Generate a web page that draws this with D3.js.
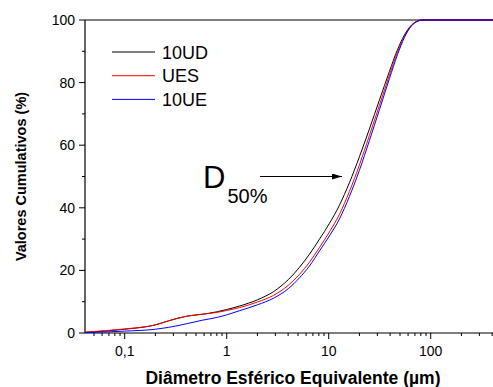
<!DOCTYPE html>
<html>
<head>
<meta charset="utf-8">
<script src="https://cdn.jsdelivr.net/npm/d3@7"></script>
<style>
  body { margin: 0; background: #fff; }
  svg text { font-family: "Liberation Sans", Arial, sans-serif; }
</style>
</head>
<body>
<div id="chart"></div>
<script>
// values
var seriesNames = ["10UD", "UES", "10UE"];
var seriesColors = ["#000000", "#ff0000", "#0000ff"];

// diameter (um), shared by the three curves
var diameters = [0.041, 0.1, 0.2, 0.27, 0.41, 0.58, 0.81, 1.0, 1.33, 2.0, 2.87, 4.03, 5.16, 6.47,
  8.11, 10.16, 12.73, 15.95, 20.0, 25.06, 31.4, 39.4, 47.2, 55.2, 64.7, 74.1, 83.0, 408];
// cumulative %
var values10UD = [0.2, 1.2, 2.6, 3.9, 5.4, 6.0, 6.8, 7.5, 8.6, 10.6, 13.2, 17.1, 20.95, 25.15,
  29.95, 35.0, 40.8, 48.0, 56.3, 65.2, 74.4, 83.6, 90.5, 95.2, 98.35, 99.65, 100, 100];
var valuesUES = [0.3, 1.3, 2.6, 3.9, 5.4, 6.0, 6.6, 7.2, 8.1, 9.9, 12.0, 15.3, 18.7, 22.6,
  27.3, 32.3, 37.9, 45.2, 53.7, 63.1, 72.7, 82.4, 89.7, 94.8, 98.2, 99.65, 100, 100];
var values10UE = [0.1, 0.6, 1.2, 1.8, 3.0, 4.1, 5.0, 5.8, 7.1, 9.0, 11.1, 14.2, 17.6, 21.4,
  26.2, 31.0, 36.4, 43.6, 52.0, 61.5, 71.3, 81.3, 88.9, 94.4, 98.1, 99.6, 100, 100];
var allValues = [values10UD, valuesUES, values10UE];

var xMajor = [0.1, 1, 10, 100];
var xMajorLabels = ["0,1", "1", "10", "100"];
var yMajor = [0, 20, 40, 60, 80, 100];
var yMinor = [10, 30, 50, 70, 90];

var width = 493, height = 387;
var margin = {top: 20, right: 0, bottom: 54, left: 85};

var svg = d3.select("#chart").append("svg")
  .attr("width", width)
  .attr("height", height);

var x = d3.scaleLog()
  .domain([0.0408, 408])
  .range([margin.left, width - margin.right]);
var y = d3.scaleLinear()
  .domain([0, 100])
  .range([height - margin.bottom, margin.top]);

// minor x ticks (log 2..9 multiples)
var xMinor = x.ticks().filter(function(d) { return xMajor.indexOf(d) < 0; });

var xAxis = svg.append("g")
  .attr("transform", "translate(0," + y(0) + ")");
xAxis.append("line")
  .attr("x1", x.range()[0]).attr("x2", x.range()[1])
  .attr("stroke", "#000").attr("stroke-width", 1.2);
xAxis.selectAll(".minor").data(xMinor).enter().append("line")
  .attr("x1", function(d) { return x(d); }).attr("x2", function(d) { return x(d); })
  .attr("y1", 0).attr("y2", 3)
  .attr("stroke", "#000");
xAxis.selectAll(".major").data(xMajor).enter().append("line")
  .attr("x1", function(d) { return x(d); }).attr("x2", function(d) { return x(d); })
  .attr("y1", 0).attr("y2", 6)
  .attr("stroke", "#000");
xAxis.selectAll("text").data(xMajor).enter().append("text")
  .attr("x", function(d) { return x(d); })
  .attr("y", 23)
  .attr("text-anchor", "middle")
  .style("font-size", "14px")
  .text(function(d, i) { return xMajorLabels[i]; });

var yAxis = svg.append("g")
  .attr("transform", "translate(" + x.range()[0] + ",0)");
yAxis.append("line")
  .attr("y1", y(0)).attr("y2", y(100))
  .attr("stroke", "#000").attr("stroke-width", 1.2);
yAxis.selectAll(".minor").data(yMinor).enter().append("line")
  .attr("y1", function(d) { return y(d); }).attr("y2", function(d) { return y(d); })
  .attr("x1", 0).attr("x2", -3)
  .attr("stroke", "#000");
yAxis.selectAll(".major").data(yMajor).enter().append("line")
  .attr("y1", function(d) { return y(d); }).attr("y2", function(d) { return y(d); })
  .attr("x1", 0).attr("x2", -6)
  .attr("stroke", "#000");
yAxis.selectAll("text").data(yMajor).enter().append("text")
  .attr("x", -10)
  .attr("y", function(d) { return y(d); })
  .attr("dy", "0.36em")
  .attr("text-anchor", "end")
  .style("font-size", "14px")
  .text(function(d) { return d; });

// top frame line
svg.append("line")
  .attr("x1", x.range()[0]).attr("x2", x.range()[1])
  .attr("y1", y(100)).attr("y2", y(100))
  .attr("stroke", "#000").attr("stroke-width", 1.2);

// curves
var line = d3.line()
  .x(function(d, i) { return x(diameters[i]); })
  .y(function(d) { return y(d); })
  .curve(d3.curveMonotoneX);

svg.selectAll(".curve").data(allValues).enter().append("path")
  .attr("class", "curve")
  .attr("d", line)
  .attr("fill", "none")
  .attr("stroke", function(d, i) { return seriesColors[i]; })
  .attr("stroke-width", 1);

// legend
var legend = svg.selectAll(".legend").data(seriesNames).enter().append("g")
  .attr("transform", function(d, i) { return "translate(112," + (52 + i * 23.7) + ")"; });
legend.append("line")
  .attr("x1", 0).attr("x2", 43)
  .attr("stroke", function(d, i) { return seriesColors[i]; })
  .attr("stroke-width", 1);
legend.append("text")
  .attr("x", 50)
  .attr("y", 6.5)
  .style("font-size", "18px")
  .text(function(d) { return d; });

// D50 annotation
var note = svg.append("text")
  .attr("x", 203)
  .attr("y", 187.5);
note.append("tspan").style("font-size", "31px").text("D");
note.append("tspan").attr("dx", 2).attr("dy", 15).style("font-size", "20px").text("50%");

svg.append("defs").append("marker")
  .attr("id", "arrow")
  .attr("viewBox", "0 0 10 6")
  .attr("refX", 10).attr("refY", 3)
  .attr("markerWidth", 10).attr("markerHeight", 6)
  .attr("markerUnits", "userSpaceOnUse")
  .attr("orient", "auto")
  .append("path")
  .attr("d", "M0,0L10,3L0,6Z")
  .attr("fill", "#000");

svg.append("line")
  .attr("x1", 260).attr("x2", 342)
  .attr("y1", y(50)).attr("y2", y(50))
  .attr("stroke", "#000")
  .attr("stroke-width", 1)
  .attr("marker-end", "url(#arrow)");

// axis titles
svg.append("text")
  .attr("x", 293)
  .attr("y", 384)
  .attr("text-anchor", "middle")
  .style("font-size", "17.5px")
  .style("font-weight", "bold")
  .text("Diâmetro Esférico Equivalente (µm)");

svg.append("text")
  .attr("transform", "translate(26," + ((y(0) + y(100)) / 2) + ") rotate(-90)")
  .attr("text-anchor", "middle")
  .style("font-size", "14.5px")
  .style("font-weight", "bold")
  .text("Valores Cumulativos (%)");
</script>
</body>
</html>
